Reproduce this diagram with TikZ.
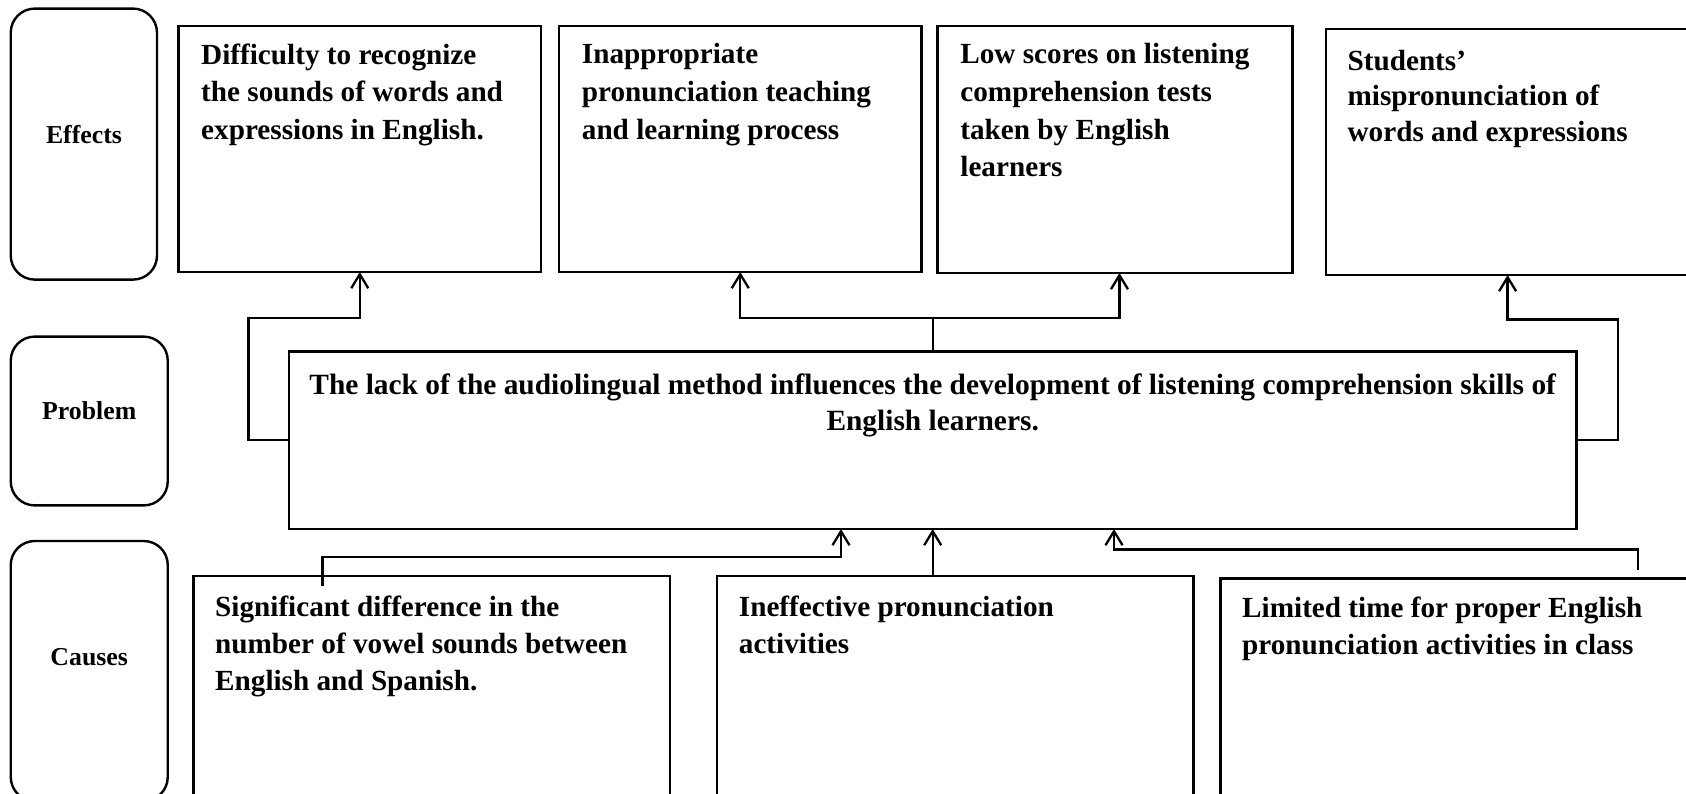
\documentclass[tikz,border=0pt]{standalone}
\usepackage{fontspec}
\setmainfont{Liberation Serif}
\usetikzlibrary{arrows.meta}
\tikzset{
  box/.style={draw, line width=2.6pt, inner sep=0pt, outer sep=0pt, anchor=north west},
  lbl/.style={box, line width=2.4pt, rounded corners=24pt},
  txt/.style={anchor=north west, inner sep=0pt, align=left, font=\bfseries\fontsize{29.2}{37.6}\selectfont},
  ptxt/.style={anchor=north, inner sep=0pt, align=center, font=\bfseries\fontsize{29.4}{35.5}\selectfont},
  ltxt/.style={inner sep=0pt, font=\bfseries\fontsize{25.8}{30}\selectfont},
  conn/.style={line width=2.3pt, line join=miter},
  arr/.style={conn, -{Straight Barb[length=14pt,width=17pt,line width=2.3pt]}}
}
\begin{document}
\begin{tikzpicture}[x=1pt,y=-1pt]
\useasboundingbox (0,0) rectangle (1686,793);
\clip (0,0) rectangle (1686,793);
\fill[white] (0,0) rectangle (1686,793);
% row labels
\node[lbl, minimum width=146.25pt, minimum height=271pt] (leff) at (10.75,8.6) {};
\node[ltxt] (teff) at (84,134.4) {Effects};
\node[lbl, minimum width=157pt, minimum height=168.8pt] (lprob) at (10.75,336.6) {};
\node[ltxt] (tprob) at (89.2,410.8) {Problem};
\node[lbl, minimum width=157pt, minimum height=260pt] (lcau) at (10.75,541) {};
\node[ltxt] (tcau) at (89.2,657) {Causes};
% effects
\node[box, minimum width=362.5pt, minimum height=246.2pt] (e1) at (178.5,25.8) {};
\node[txt] (te1) at (201,43.4) {Difficulty to recognize\\the sounds of words and\\expressions in English.};
\node[box, minimum width=362.5pt, minimum height=246.2pt] (e2) at (559,25.8) {};
\node[txt] (te2) at (581.7,43.4) {Inappropriate\\pronunciation teaching\\and learning process};
\node[box, minimum width=354.9pt, minimum height=247.2pt] (e3) at (937.6,25.8) {};
\node[txt] (te3) at (960.2,43.4) {Low scores on listening\\comprehension tests\\taken by English\\learners};
\node[box, minimum width=363.6pt, minimum height=246pt] (e4) at (1325.8,29) {};
\node[txt, font=\bfseries\fontsize{29.2}{35.5}\selectfont] (te4) at (1347.4,49.9) {Students’\\mispronunciation of\\words and expressions};
% problem
\node[box, minimum width=1287.4pt, minimum height=177.4pt] (prob) at (289,351.6) {};
\node[ptxt] (tprob2) at (932.7,373.6) {The lack of the audiolingual method influences the development of listening comprehension skills of\\English learners.};
% causes
\node[box, minimum width=476.5pt, minimum height=240pt] (c1) at (193.5,576) {};
\node[txt, font=\bfseries\fontsize{29.2}{37.1}\selectfont] (tc1) at (215,596) {Significant difference in the\\number of vowel sounds between\\English and Spanish.};
\node[box, minimum width=476.6pt, minimum height=240pt] (c2) at (717,576) {};
\node[txt, font=\bfseries\fontsize{29.2}{37.1}\selectfont] (tc2) at (738.7,596) {Ineffective pronunciation\\activities};
\node[box, minimum width=480pt, minimum height=240pt] (c3) at (1220.5,578.5) {};
\node[txt, font=\bfseries\fontsize{29.2}{37.1}\selectfont] (tc3) at (1242,597) {Limited time for proper English\\pronunciation activities in class};
% connectors: problem -> effects
\draw[arr] (prob.west) -- ++(-40.6,0) |- ([yshift=-46.3pt]e1.south) -- (e1.south);
\coordinate (m) at (932.7,318.3);
\draw[conn] (prob.north) -- (m);
\draw[arr] (m) -| (e2.south);
\draw[arr] (m) -| ([xshift=4.4pt]e3.south);
\draw[arr] (prob.east) -- ++(41.9,0) |- ([yshift=-44.4pt]e4.south) -- (e4.south);
% connectors: causes -> problem
\coordinate (s1) at (322.6,586);
\draw[arr] (s1) |- ([xshift=-91.7pt,yshift=-28pt]prob.south) -- ([xshift=-91.7pt]prob.south);
\draw[arr] (prob.south |- c2.north) -- (prob.south);
\coordinate (s3) at (1637.7,570);
\draw[arr] (s3) |- ([xshift=181.3pt,yshift=-20.5pt]prob.south) -- ([xshift=181.3pt]prob.south);
\end{tikzpicture}
\end{document}
